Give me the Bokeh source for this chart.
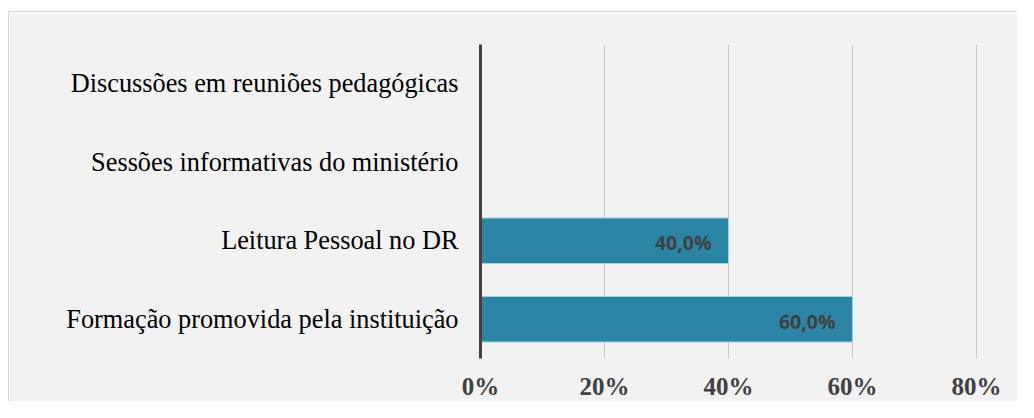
from bokeh.plotting import figure
from bokeh.models import FactorRange, Range1d, FixedTicker, NumeralTickFormatter, ColumnDataSource, Spacer, Column, Row
from bokeh.core.properties import value
from bokeh.embed import file_html
from bokeh.resources import INLINE

# Data (bottom -> top)
categories = [
    "Formação promovida pela instituição",
    "Leitura Pessoal no DR",
    "Sessões informativas do ministério",
    "Discussões em reuniões pedagógicas",
]
values = [0.60, 0.40, 0.0, 0.0]
x_ticks = [0, 0.2, 0.4, 0.6, 0.8]

labels = [(f"{v*100:.1f}%".replace(".", ",") if v > 0 else "") for v in values]

src = ColumnDataSource(dict(cat=categories, val=values, lab=labels))

W, H = 1009, 390
p = figure(
    width=W, height=H,
    y_range=FactorRange(*categories, range_padding=0),
    x_range=Range1d(0, 538 / 620),
    output_backend="svg", toolbar_location=None,
    min_border_left=471, min_border_right=0, min_border_top=32, min_border_bottom=41,
)
p.background_fill_color = "#f2f2f2"
p.border_fill_color = "#f2f2f2"
p.outline_line_color = None
p.styles = {"border-left": "1px solid #d4d4d4", "border-top": "1px solid #d4d4d4"}

p.hbar(y="cat", right="val", left=0, height=0.58, source=src,
       fill_color="#2b86a6", line_color="#9fd3e4", line_width=1)

p.text(x="val", y="cat", text="lab", source=src,
       text_align="right", text_baseline="middle", x_offset=-17, y_offset=2,
       text_font=value("Open Sans"), text_font_style="bold", text_font_size="19.5px",
       text_color="#404040")

# grid
p.ygrid.grid_line_color = None
p.xgrid.grid_line_color = "#c4c4c4"
p.xgrid.grid_line_width = 1
p.xgrid.ticker = FixedTicker(ticks=x_ticks)

# x axis
p.xaxis.ticker = FixedTicker(ticks=x_ticks)
p.xaxis.formatter = NumeralTickFormatter(format="0%")
p.xaxis.axis_line_color = None
p.xaxis.major_tick_line_color = None
p.xaxis.minor_tick_line_color = None
p.xaxis.major_tick_out = 0
p.xaxis.major_tick_in = 0
p.xaxis.major_label_standoff = 14
p.xaxis.major_label_text_font = "Liberation Serif"
p.xaxis.major_label_text_font_style = "bold"
p.xaxis.major_label_text_font_size = "25px"
p.xaxis.major_label_text_color = "#404040"

# y axis
p.yaxis.axis_line_color = "#404040"
p.yaxis.axis_line_width = 3
p.yaxis.major_tick_line_color = None
p.yaxis.minor_tick_line_color = None
p.yaxis.major_tick_out = 0
p.yaxis.major_tick_in = 0
p.yaxis.major_label_standoff = 22
p.yaxis.major_label_text_font = "Liberation Serif"
p.yaxis.major_label_text_font_style = "normal"
p.yaxis.major_label_text_font_size = "26.3px"
p.yaxis.major_label_text_color = "#000000"

layout = Row(Spacer(width=8, height=H + 12),
             Column(Spacer(width=W + 1, height=11), p, spacing=0),
             spacing=0)

open("out.html", "w").write(file_html(layout, INLINE))
